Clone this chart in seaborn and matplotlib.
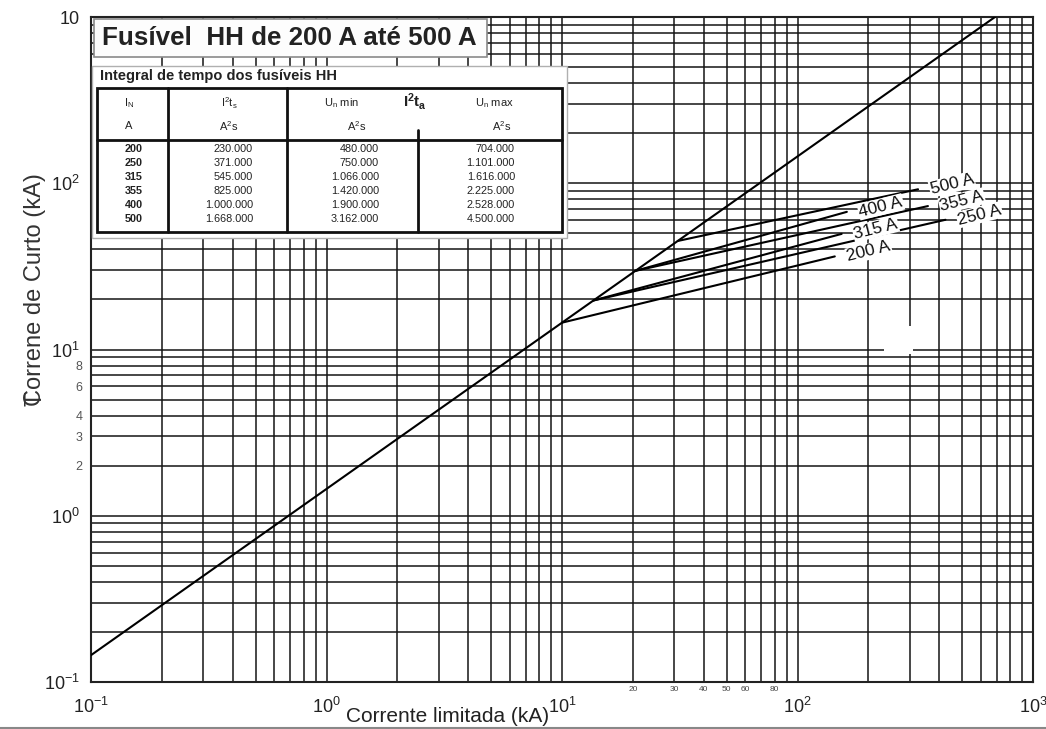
import numpy as np
import pandas as pd
import matplotlib
matplotlib.use("Agg")
import matplotlib.pyplot as plt
import seaborn as sns
from matplotlib.patches import Rectangle
from matplotlib.lines import Line2D

# ---- data -------------------------------------------------------------
# prospective current (rms) -> peak short-circuit current, no fuse
peak_factor = 1.45
diag_x = [0.1, 1000.0]

# cut-off characteristic of each fuse rating: start on the diagonal, end point
ratings = ["200 A", "250 A", "315 A", "355 A", "400 A", "500 A"]
start_x = [10.0, 13.6, 13.6, 20.5, 20.5, 31.0]
end_x = [144.0, 425.0, 154.0, 358.0, 162.0, 325.0]
end_y = [36.3, 60.3, 49.6, 72.9, 67.3, 92.0]

# Joule integral table
tab_in = ["200", "250", "315", "355", "400", "500"]
tab_i2ts = ["230.000", "371.000", "545.000", "825.000", "1.000.000", "1.668.000"]
tab_umin = ["480.000", "750.000", "1.066.000", "1.420.000", "1.900.000", "3.162.000"]
tab_umax = ["704.000", "1.101.000", "1.616.000", "2.225.000", "2.528.000", "4.500.000"]

x_major = [0.1, 1, 10, 100, 1000]
x_major_labels = [r"$\mathregular{10^{-1}}$", r"$\mathregular{10^{0}}$",
                  r"$\mathregular{10^{1}}$", r"$\mathregular{10^{2}}$",
                  r"$\mathregular{10^{3}}$"]
y_major = [0.1, 1, 10, 100, 1000]
y_major_labels = [r"$\mathregular{10^{-1}}$", r"$\mathregular{10^{0}}$",
                  r"$\mathregular{10^{1}}$", r"$\mathregular{10^{2}}$", "10"]
x_minor_named = {20: "20", 30: "30", 40: "40", 50: "50", 60: "60", 80: "80"}
y_minor_named = {2: "2", 3: "3", 4: "4", 6: "6", 8: "8"}

# ---- style ------------------------------------------------------------
sns.set_theme(style="white")
plt.rcParams["font.family"] = ["Liberation Sans", "DejaVu Sans"]
plt.rcParams["mathtext.fontset"] = "custom"
plt.rcParams["mathtext.rm"] = "Liberation Sans"
plt.rcParams["mathtext.bf"] = "Liberation Sans:bold"
plt.rcParams["mathtext.it"] = "Liberation Sans:italic"

W, H = 1046, 729
fig = plt.figure(figsize=(W / 100, H / 100), dpi=100)
fig.patch.set_facecolor("white")


def fx(px):
    return px / W


def fy(py):
    return 1 - py / H


ax = fig.add_axes([fx(91), fy(682), (1033 - 91) / W, (682 - 17) / H])
ax.set_xscale("log")
ax.set_yscale("log")

# ---- curves -----------------------------------------------------------
rows = [dict(curve="diag", corrente=x, pico=peak_factor * x, k=i)
        for i, x in enumerate(diag_x)]
for r, sx, ex, ey in zip(ratings, start_x, end_x, end_y):
    rows.append(dict(curve=r, corrente=sx, pico=peak_factor * sx, k=0))
    rows.append(dict(curve=r, corrente=ex, pico=ey, k=1))
df = pd.DataFrame(rows)
sns.lineplot(data=df, x="corrente", y="pico", units="curve", estimator=None,
             sort=False, color="black", linewidth=1.5, ax=ax, legend=False,
             zorder=3)

ax.set_xlim(0.1, 1000)
ax.set_ylim(0.1, 1000)

# ---- grid & ticks -----------------------------------------------------
minor_vals = [m * 10.0 ** e for e in range(-1, 3) for m in range(2, 10)]
ax.set_xticks(x_major, labels=x_major_labels)
ax.set_yticks(y_major, labels=y_major_labels)
ax.set_xticks(minor_vals, labels=[x_minor_named.get(int(round(v)), "") if 10 <= v < 100 else ""
                                  for v in minor_vals], minor=True)
ax.set_yticks(minor_vals, labels=[y_minor_named.get(int(round(v)), "") if 1 <= v < 10 else ""
                                  for v in minor_vals], minor=True)
ax.grid(which="both", color="#151515", linewidth=1.1)
ax.set_axisbelow(True)
ax.tick_params(which="both", length=0)
ax.tick_params(axis="x", which="major", labelsize=13, pad=11, colors="#222")
ax.tick_params(axis="x", which="minor", labelsize=6, pad=3, colors="#444")
ax.tick_params(axis="y", which="major", labelsize=13, pad=8, colors="#222")
ax.tick_params(axis="y", which="minor", labelsize=9, pad=6, colors="#555")
for s in ax.spines.values():
    s.set_color("#222")
    s.set_linewidth(1.5)
ax.set_xlabel("")
ax.set_ylabel("")

# ---- rating labels ----------------------------------------------------
for r, ex, ey in zip(ratings, end_x, end_y):
    ax.annotate(r, xy=(ex, ey), xytext=(34, 5), textcoords="offset pixels",
                ha="center", va="center", rotation=14, fontsize=12.5,
                color="#111", zorder=5,
                bbox=dict(boxstyle="square,pad=0.05", fc="white", ec="none"))

# ---- axis titles ------------------------------------------------------
fig.text(fx(448), fy(717), "Corrente limitada (kA)", ha="center", va="center",
         fontsize=15, color="#222")
fig.text(fx(35), fy(406), "Correne de Curto (kA)", rotation=90, ha="center",
         va="bottom", fontsize=17, color="#333")
fig.text(fx(35), fy(406), "T", rotation=90, ha="center", va="bottom",
         fontsize=17, color="#333")

# ---- title box --------------------------------------------------------
fig.patches.append(Rectangle((fx(94), fy(57)), (487 - 94) / W, (57 - 19) / H,
                             transform=fig.transFigure, fc="#fdfdfd",
                             ec="#8a8a8a", lw=1.2, zorder=4))
fig.text(fx(102), fy(38), "Fusível  HH de 200 A até 500 A", ha="left",
         va="center", fontsize=18.7, fontweight="bold", color="#222", zorder=5)

# ---- joule integral table ---------------------------------------------
fig.patches.append(Rectangle((fx(92), fy(238)), (567 - 92) / W, (238 - 66) / H,
                             transform=fig.transFigure, fc="white",
                             ec="#b0b0b0", lw=1.0, zorder=4))
fig.text(fx(100), fy(76), "Integral de tempo dos fusíveis HH", ha="left",
         va="center", fontsize=10.5, fontweight="bold", color="#222", zorder=5)
fig.patches.append(Rectangle((fx(97), fy(232)), (562 - 97) / W, (232 - 88) / H,
                             transform=fig.transFigure, fc="none",
                             ec="#111", lw=2.0, zorder=5))


def fline(x0, y0, x1, y1, lw=2.0):
    fig.lines.append(Line2D([fx(x0), fx(x1)], [fy(y0), fy(y1)],
                            transform=fig.transFigure, color="#111", lw=lw,
                            zorder=5))


fline(97, 140, 562, 140)
fline(168, 88, 168, 232)
fline(287, 88, 287, 232)
fline(418, 130, 418, 232)

hdr = dict(ha="center", va="center", fontsize=8, color="#222", zorder=6)
fig.text(fx(129), fy(103), r"$\mathregular{I_N}$", **hdr)
fig.text(fx(129), fy(126), "A", **hdr)
fig.text(fx(229), fy(103), r"$\mathregular{I^2t_s}$", **hdr)
fig.text(fx(229), fy(126), r"$\mathregular{A^2s}$", **hdr)
fig.text(fx(342), fy(103), r"$\mathregular{U_n\ min}$", **hdr)
fig.text(fx(357), fy(126), r"$\mathregular{A^2s}$", **hdr)
fig.text(fx(415), fy(101), r"$\mathbf{I^2t_a}$", ha="center", va="center",
         fontsize=11, color="#222", zorder=6)
fig.text(fx(494), fy(103), r"$\mathregular{U_n\ max}$", **hdr)
fig.text(fx(502), fy(126), r"$\mathregular{A^2s}$", **hdr)

row_y = [149, 163, 177, 191, 205, 219]
for yy, a, b, c, d in zip(row_y, tab_in, tab_i2ts, tab_umin, tab_umax):
    fig.text(fx(134), fy(yy), a, ha="center", va="center", fontsize=7.8,
             fontweight="bold", color="#222", zorder=6)
    fig.text(fx(253), fy(yy), b, ha="right", va="center", fontsize=7.8,
             color="#222", zorder=6)
    fig.text(fx(379), fy(yy), c, ha="right", va="center", fontsize=7.8,
             color="#222", zorder=6)
    fig.text(fx(515), fy(yy), d, ha="right", va="center", fontsize=7.8,
             color="#222", zorder=6)

# small erased patch of the grid
fig.patches.append(Rectangle((fx(884), fy(354)), (913 - 884) / W, (354 - 326) / H,
                             transform=fig.transFigure, fc="white", ec="none",
                             zorder=4))

# page edge line at the bottom
fig.lines.append(Line2D([0, 1], [fy(727.5), fy(727.5)], transform=fig.transFigure,
                        color="#888", lw=1.5))

fig.savefig("out.png", dpi=100, facecolor="white")
